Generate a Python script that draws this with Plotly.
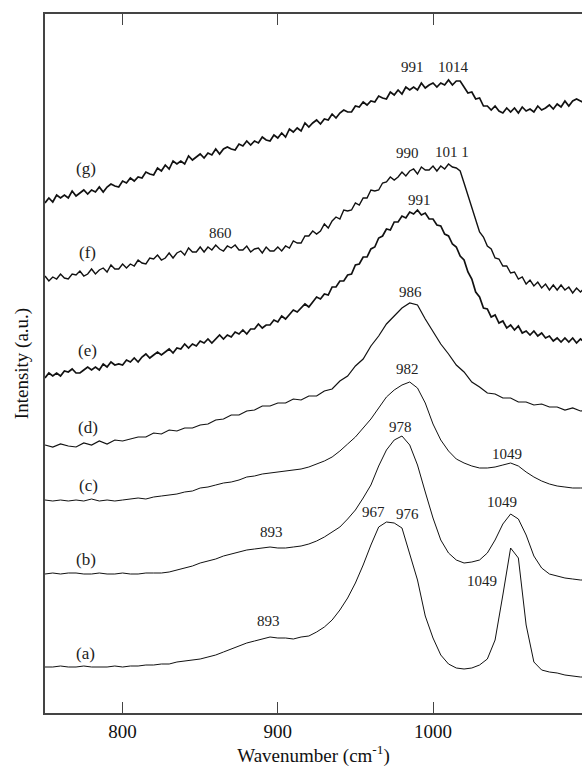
import plotly.graph_objects as go

# Sampling grids (wavenumber, cm^-1)
wavenumber = [750 + 5 * i for i in range(71)]          # spectra (a)-(d)
wavenumber_fine = [750 + 2.5 * i for i in range(141)]  # noisy spectra (e)-(g)

# Values (depth below the top of the frame, a.u.)
depth_a = [667, 667, 666, 667, 667, 666, 667, 667, 667, 666,
           667, 666, 666, 665, 665, 664, 664, 662, 661, 660,
           659, 657, 655, 652, 649, 646, 643, 641, 639, 637,
           638, 638, 639, 637, 636, 632, 627, 620, 610, 598,
           583, 565, 545, 527, 522, 523, 528, 553, 580, 616,
           638, 655, 664, 668, 669, 668, 665, 659, 640, 595,
           548, 558, 625, 662, 670, 672, 673, 675, 676, 677, 677]
depth_b = [574, 573, 574, 573, 573, 574, 574, 573, 574, 574,
           573, 574, 574, 573, 573, 573, 572, 570, 568, 566,
           563, 561, 559, 556, 554, 552, 550, 549, 548, 547,
           548, 548, 547, 546, 544, 541, 537, 532, 527, 519,
           510, 498, 485, 466, 450, 440, 436, 445, 465, 492,
           518, 540, 553, 560, 563, 562, 560, 553, 540, 524,
           514, 519, 535, 556, 568, 574, 576, 578, 579, 580, 580]
depth_c = [500, 501, 500, 501, 500, 501, 499, 501, 500, 501,
           500, 499, 498, 499, 497, 496, 495, 494, 492, 491,
           488, 487, 485, 483, 482, 480, 477, 476, 474, 473,
           472, 471, 470, 469, 467, 464, 461, 457, 451, 444,
           437, 428, 419, 408, 397, 390, 385, 382, 388, 403,
           424, 440, 451, 459, 463, 466, 468, 468, 467, 465,
           463, 466, 472, 477, 481, 484, 486, 487, 488, 488, 488]
depth_d = [445, 447, 444, 446, 447, 443, 445, 441, 444, 440,
           441, 439, 437, 437, 433, 434, 430, 431, 428, 428,
           425, 424, 420, 419, 415, 415, 411, 410, 406, 406,
           403, 403, 399, 400, 396, 396, 391, 389, 381, 376,
           366, 359, 346, 336, 324, 316, 308, 303, 305, 319,
           331, 344, 354, 365, 372, 382, 387, 393, 394, 398,
           398, 402, 402, 405, 404, 407, 407, 410, 408, 411, 410]
depth_e = [378, 373, 376, 373, 376, 371, 372, 369, 373, 373,
           370, 367, 370, 367, 370, 364, 367, 362, 365, 364,
           365, 360, 362, 358, 362, 357, 354, 358, 355, 352,
           355, 352, 349, 353, 348, 349, 344, 348, 344, 346,
           341, 343, 339, 343, 339, 335, 339, 335, 337, 332,
           334, 330, 334, 329, 329, 324, 328, 325, 325, 320,
           322, 316, 319, 314, 310, 312, 308, 304, 307, 302,
           297, 299, 294, 295, 287, 287, 281, 281, 275, 274,
           265, 264, 257, 257, 249, 247, 238, 236, 229, 230,
           222, 222, 216, 218, 212, 214, 210, 215, 213, 219,
           219, 225, 226, 234, 236, 244, 247, 256, 260, 272,
           279, 292, 297, 308, 309, 317, 315, 323, 321, 328,
           325, 330, 326, 333, 331, 335, 331, 336, 333, 338,
           336, 341, 338, 342, 338, 342, 338, 343, 339, 342, 338]
depth_f = [276, 281, 277, 279, 274, 278, 279, 274, 275, 271,
           276, 274, 269, 274, 270, 268, 272, 265, 269, 269,
           264, 268, 264, 266, 260, 263, 264, 258, 259, 255,
           260, 258, 253, 258, 253, 251, 255, 248, 252, 252,
           247, 252, 247, 250, 245, 249, 251, 246, 248, 245,
           250, 250, 246, 252, 249, 248, 253, 247, 251, 251,
           247, 251, 246, 248, 241, 243, 243, 236, 236, 231,
           234, 231, 224, 228, 221, 217, 219, 210, 211, 210,
           203, 205, 198, 198, 190, 191, 190, 183, 182, 177,
           180, 177, 172, 176, 171, 169, 174, 167, 170, 170,
           166, 171, 166, 169, 164, 167, 168, 171, 183, 195,
           209, 219, 232, 237, 246, 249, 258, 259, 266, 266,
           273, 272, 279, 277, 284, 280, 286, 282, 288, 284,
           290, 285, 290, 285, 290, 287, 293, 288, 292, 288, 293]
depth_g = [203, 198, 202, 195, 198, 195, 198, 191, 196, 193,
           190, 194, 190, 192, 187, 192, 187, 184, 186, 187,
           181, 183, 178, 181, 177, 178, 172, 174, 175, 168,
           171, 165, 169, 161, 164, 161, 164, 156, 160, 157,
           154, 158, 153, 155, 149, 154, 149, 147, 149, 150,
           144, 146, 141, 145, 141, 143, 137, 140, 141, 135,
           138, 133, 137, 129, 132, 128, 131, 123, 127, 123,
           120, 124, 119, 120, 114, 118, 113, 110, 112, 112,
           106, 107, 102, 105, 101, 102, 96, 98, 99, 92,
           95, 90, 94, 87, 90, 87, 90, 83, 88, 85,
           83, 87, 83, 85, 80, 85, 81, 81, 87, 93,
           92, 99, 98, 106, 106, 110, 106, 111, 113, 108,
           112, 108, 113, 107, 111, 109, 112, 106, 110, 108,
           105, 109, 104, 107, 101, 106, 101, 99, 101, 103, 97]

series_names = ["(a)", "(b)", "(c)", "(d)", "(e)", "(f)", "(g)"]
series_depths = [depth_a, depth_b, depth_c, depth_d, depth_e, depth_f, depth_g]

# Peak labels: text, wavenumber position, intensity position
peak_text = ["991", "1014", "990", "101 1", "991", "860", "986", "982",
             "978", "1049", "893", "1049", "967", "976", "893", "1049"]
peak_x = [986.5, 1013, 983.3, 1012.3, 991, 862.8, 985.2, 983.3,
          978.8, 1047.7, 895.7, 1044.5, 961.4, 983.3, 893.8, 1031.6]
peak_y = [646, 646, 560, 561, 513, 480, 421, 344,
          286, 259, 181, 211, 201, 199, 92, 132]

# Trace letter labels
letter_x = [775.8, 776.5, 777.8, 777.8, 777.1, 777.1, 776.5]
letter_y = [60, 154, 228, 286, 363, 461, 545]

TOP = 713
FONT = "Liberation Serif"

fig = go.Figure()
widths = [1.0, 1.0, 1.0, 1.2, 1.7, 1.4, 1.7]
for i, (name, d, w) in enumerate(zip(series_names, series_depths, widths)):
    xs = wavenumber if i < 4 else wavenumber_fine
    fig.add_trace(go.Scatter(
        x=xs, y=[TOP - v for v in d], mode="lines", name=name,
        line=dict(color="#111111", width=w), showlegend=False,
        hoverinfo="skip"))

annotations = []
for t, x, y in zip(peak_text, peak_x, peak_y):
    annotations.append(dict(x=x, y=y, xref="x", yref="y", text=t,
                            showarrow=False, font=dict(family=FONT, size=15, color="#222")))
for t, x, y in zip(series_names, letter_x, letter_y):
    annotations.append(dict(x=x, y=y, xref="x", yref="y", text=t,
                            showarrow=False, font=dict(family=FONT, size=17, color="#222")))

fig.update_layout(
    width=582, height=769,
    margin=dict(l=45, r=0, t=14, b=56),
    paper_bgcolor="white", plot_bgcolor="white",
    font=dict(family=FONT, color="#111"),
    annotations=annotations,
    xaxis=dict(
        range=[750, 1096], tickvals=[800, 900, 1000],
        ticks="inside", ticklen=11, tickwidth=1.2, tickcolor="#444",
        showline=True, linecolor="#444", linewidth=1.5, mirror="ticks",
        showgrid=False, zeroline=False,
        tickfont=dict(family=FONT, size=19, color="#111"),
        title=dict(text="Wavenumber (cm<sup>-1</sup>)", standoff=8,
                   font=dict(family=FONT, size=19, color="#111")),
    ),
    yaxis=dict(
        range=[0, TOP - 14], showticklabels=False, ticks="",
        showline=True, linecolor="#444", linewidth=1.5, mirror=False,
        showgrid=False, zeroline=False,
        title=dict(text="Intensity (a.u.)", standoff=10,
                   font=dict(family=FONT, size=19, color="#111")),
    ),
)

fig.write_html("out.html", config={"displayModeBar": False},
               post_script="document.body.style.margin='0';")
